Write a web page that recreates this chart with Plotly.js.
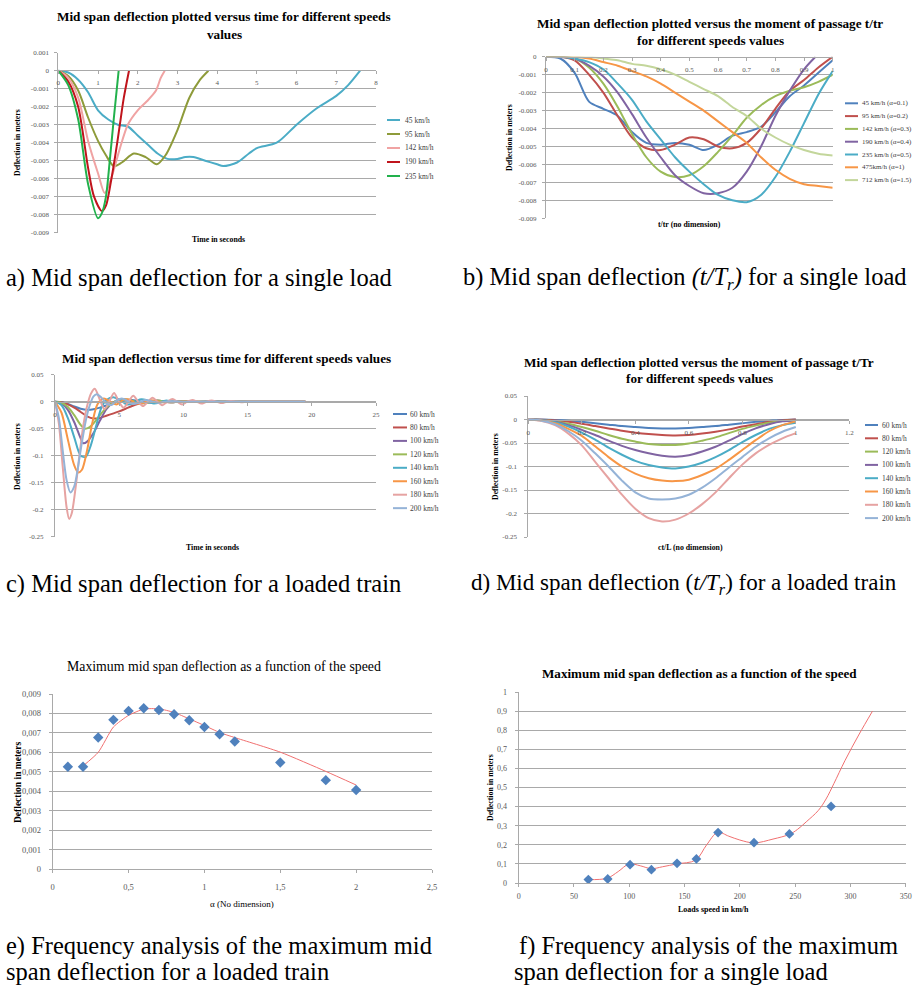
<!DOCTYPE html>
<html><head><meta charset="utf-8">
<script src="https://cdn.plot.ly/plotly-3.0.1.min.js"></script>
<style>html,body{margin:0;padding:0;background:#fff}#chart{width:914px;height:985px}</style>
</head><body><div id="chart"></div>
<script>
// ================= DATA =================
// (a) single load, deflection vs time
const aNames = ["45 km/h","95 km/h","142 km/h","190 km/h","235 km/h"];
const a45T = [0,0.25,0.5,0.75,1,1.25,1.5,1.75,2,2.25,2.5,2.75,3,3.2,3.4,3.7,4,4.15,4.5,4.8,5,5.5,6,6.5,7,7.3,7.6];
const a45Y = [0,-0.0001,-0.0005,-0.0012,-0.0022,-0.0027,-0.003,-0.0031,-0.0036,-0.0041,-0.0046,-0.0049,-0.0049,-0.0048,-0.0048,-0.005,-0.0052,-0.0053,-0.0051,-0.0046,-0.0043,-0.004,-0.003,-0.0021,-0.0014,-0.0008,0];
const a95T = [0,0.25,0.5,0.75,1,1.2,1.4,1.6,1.9,2.2,2.48,2.7,3,3.3,3.57,3.78];
const a95Y = [0,-0.0003,-0.0011,-0.0026,-0.0039,-0.0047,-0.0053,-0.0051,-0.0046,-0.0048,-0.0052,-0.0047,-0.0033,-0.0015,-0.0005,0];
const a142T = [0,0.25,0.5,0.75,1,1.17,1.33,1.54,1.75,2,2.23,2.46,2.58,2.68];
const a142Y = [0,-0.0004,-0.0015,-0.0039,-0.0057,-0.0068,-0.006,-0.0044,-0.003,-0.0022,-0.0017,-0.0011,-0.0004,0];
const a190T = [0,0.25,0.5,0.75,0.9,1.1,1.2,1.33,1.45,1.55,1.65,1.78];
const a190Y = [0,-0.0006,-0.002,-0.0054,-0.007,-0.0078,-0.0075,-0.0061,-0.0045,-0.003,-0.0015,0];
const a235T = [0,0.25,0.5,0.75,1,1.1,1.2,1.3,1.4,1.52];
const a235Y = [0,-0.0008,-0.0027,-0.0063,-0.0082,-0.0079,-0.007,-0.0049,-0.0026,0];
const aXTicks = [0,1,2,3,4,5,6,7,8];
const aXText = ["0","1","2","3","4","5","6","7","8"];
const aYTicks = [0.001,0,-0.001,-0.002,-0.003,-0.004,-0.005,-0.006,-0.007,-0.008,-0.009];
const aYText = ["0.001","0","-0.001","-0.002","-0.003","-0.004","-0.005","-0.006","-0.007","-0.008","-0.009"];

// (b) single load, deflection vs t/tr
const bNames = ["45 km/h (α=0.1)","95 km/h (α=0.2)","142 km/h (α=0.3)","190 km/h (α=0.4)","235 km/h (α=0.5)","475km/h (α=1)","712 km/h (α=1.5)"];
const bX = [0,0.05,0.1,0.15,0.2,0.25,0.3,0.35,0.4,0.45,0.5,0.55,0.6,0.65,0.7,0.75,0.8,0.85,0.9,0.95,1];
const b45 = [0,-0.0001,-0.0009,-0.0025,-0.0029,-0.0033,-0.0042,-0.0048,-0.0049,-0.0048,-0.0049,-0.0052,-0.0049,-0.0044,-0.0042,-0.0039,-0.0031,-0.0022,-0.0016,-0.0009,-0.0002];
const b95 = [0,0,-0.0002,-0.001,-0.002,-0.0033,-0.0045,-0.0051,-0.0052,-0.0049,-0.0045,-0.0046,-0.005,-0.0051,-0.0048,-0.004,-0.0029,-0.0019,-0.0013,-0.0006,0];
const b142 = [0,0,-0.0001,-0.0006,-0.0015,-0.0028,-0.0043,-0.0056,-0.0064,-0.0067,-0.0066,-0.0061,-0.0053,-0.0044,-0.0034,-0.0027,-0.0022,-0.0019,-0.0017,-0.0014,-0.001];
const b190X = [0,0.05,0.1,0.15,0.2,0.25,0.3,0.35,0.4,0.45,0.5,0.55,0.6,0.65,0.7,0.75,0.8,0.85,0.9,0.94];
const b190 = [0,0,-0.0001,-0.0005,-0.0011,-0.002,-0.0032,-0.0045,-0.0056,-0.0066,-0.0072,-0.0076,-0.0076,-0.0073,-0.0064,-0.005,-0.0033,-0.0019,-0.0007,0];
const b235 = [0,0,-0.0001,-0.0003,-0.0007,-0.0015,-0.0024,-0.0036,-0.0046,-0.0056,-0.0064,-0.0071,-0.0077,-0.008,-0.0081,-0.0077,-0.0067,-0.0053,-0.0037,-0.0021,-0.0008];
const b475 = [0,0,0,-0.0001,-0.0003,-0.0005,-0.0008,-0.0011,-0.0015,-0.002,-0.0025,-0.003,-0.0036,-0.0042,-0.0048,-0.0056,-0.0063,-0.0068,-0.0071,-0.0072,-0.0073];
const b712 = [0,0,0,0,-0.0001,-0.0002,-0.0004,-0.0005,-0.0007,-0.001,-0.0014,-0.0018,-0.0022,-0.0028,-0.0033,-0.004,-0.0045,-0.0049,-0.0052,-0.0054,-0.0055];
const bXTicks = [0,0.1,0.2,0.3,0.4,0.5,0.6,0.7,0.8,0.9,1];
const bXText = ["0","0.1","0.2","0.3","0.4","0.5","0.6","0.7","0.8","0.9","1"];
const bYTicks = [0,-0.001,-0.002,-0.003,-0.004,-0.005,-0.006,-0.007,-0.008,-0.009];
const bYText = ["0","-0.001","-0.002","-0.003","-0.004","-0.005","-0.006","-0.007","-0.008","-0.009"];

// (c) loaded train, deflection vs time
const cNames = ["60 km/h","80 km/h","100 km/h","120 km/h","140 km/h","160 km/h","180 km/h","200 km/h"];
const c60T = [0,0.5,1,1.5,2,2.5,3,3.5,4,4.5,5,5.5,6,6.5,7,7.5,8,9,10,11,12,13,14,15,16,17,18,19,19.5];
const c60Y = [0,-0.001,-0.004,-0.009,-0.013,-0.015,-0.014,-0.011,-0.007,-0.003,0.001,0.003,0.003,0.001,-0.001,-0.002,-0.001,0.001,0,-0.0005,0.0005,0,0,0,0,0,0,0,0];
const c80T = [0,0.5,1,1.5,2,2.5,3,3.5,4,4.5,5,5.5,6,6.5,7,7.5,8,8.5,9,10,11,12,13,14,15,16,17,18,19,19.5];
const c80Y = [0,-0.001,-0.005,-0.011,-0.019,-0.027,-0.031,-0.03,-0.026,-0.022,-0.018,-0.013,-0.008,-0.004,-0.001,0.001,0.001,0,-0.001,0.001,0,-0.0005,0,0,0,0,0,0,0,0];
const c100T = [0,0.5,1,1.5,2,2.2,2.5,3,3.5,4,4.5,5,5.5,6,6.5,7,7.5,8,9,10,11,12,13,14,15,16,17,18,19,19.5];
const c100Y = [0,-0.003,-0.015,-0.038,-0.068,-0.077,-0.074,-0.058,-0.035,-0.014,-0.002,0.004,0.004,0.001,-0.003,-0.002,0.001,0.002,-0.001,0.001,0,0,0,0,0,0,0,0,0,0];
const c120T = [0,0.5,1,1.5,2,2.3,2.7,3,3.5,4,4.5,5,5.5,6,6.5,7,7.5,8,9,10,11,12,13,14,15,16,17,18,19,19.5];
const c120Y = [0,-0.002,-0.01,-0.025,-0.043,-0.05,-0.047,-0.04,-0.025,-0.011,-0.002,0.003,0.004,0.002,-0.002,-0.003,0,0.002,-0.001,0.001,0,0,0,0,0,0,0,0,0,0];
const c140T = [0,0.5,1,1.5,2,2.4,2.8,3.2,3.6,4,4.6,5.1,5.6,6.1,6.6,7.1,7.6,8.1,8.6,9.1,10,11,12,13,14,15,16,17,18,19,19.5];
const c140Y = [0,-0.006,-0.03,-0.066,-0.1,-0.102,-0.08,-0.045,-0.012,0.003,0.008,0.003,-0.005,-0.003,0.004,0.003,-0.003,-0.002,0.002,0.001,0,-0.0005,0.0005,0,0,0,0,0,0,0,0];
const c160T = [0,0.5,1,1.5,1.8,2.1,2.5,2.9,3.3,3.8,4.3,4.8,5.3,5.8,6.3,6.8,7.3,7.8,8.3,9,10,11,12,13,14,15,16,17,18,19,19.5];
const c160Y = [0,-0.02,-0.07,-0.118,-0.131,-0.126,-0.09,-0.04,-0.005,0.006,0,-0.005,0.003,0.004,-0.003,-0.003,0.002,0.002,-0.001,0,0.0005,0,0,0,0,0,0,0,0,0,0];
const c180T = [0,0.3,0.6,0.9,1.1,1.3,1.6,1.9,2.2,2.5,2.8,3.1,3.47,3.85,4.22,4.6,4.97,5.35,5.72,6.1,6.48,6.86,7.23,7.6,7.98,8.36,8.75,9.15,9.52,9.9,10.3,10.7,11.05,11.4,11.8,12.2,12.6,13.0,13.35,13.7,14.1,14.5,15,16,17,18,19,19.5];
const c180Y = [0,-0.04,-0.12,-0.195,-0.217,-0.207,-0.16,-0.1,-0.045,-0.008,0.015,0.024,0.005,-0.014,0,0.016,0,-0.011,0,0.011,0,-0.008,0,0.0075,0,-0.0065,0,0.005,0,-0.005,0,0.003,0,-0.0035,0,0.002,0,-0.0025,0,0.0015,0,-0.001,0,0,0,0,0,0];
const c200T = [0,0.3,0.6,0.9,1.2,1.5,1.8,2.1,2.4,2.7,3.0,3.25,3.6,4.0,4.4,4.8,5.2,5.6,6.0,6.5,7,7.5,8,8.5,9,10,11,12,13,14,15,16,17,18,19,19.5];
const c200Y = [0,-0.03,-0.09,-0.145,-0.168,-0.157,-0.12,-0.075,-0.035,-0.007,0.01,0.014,0.008,-0.003,-0.006,0.002,0.006,0.002,-0.004,-0.002,0.003,0.001,-0.002,0,0.001,0,0,0,0,0,0,0,0,0,0,0];
const cXTicks = [0,5,10,15,20,25];
const cXText = ["0","5","10","15","20","25"];
const cYTicks = [0.05,0,-0.05,-0.1,-0.15,-0.2,-0.25];
const cYText = ["0.05","0","-0.05","-0.1","-0.15","-0.2","-0.25"];

// (d) loaded train, deflection vs ct/L
const dNames = ["60 km/h","80 km/h","120 km/h","100 km/h","140 km/h","160 km/h","180 km/h","200 km/h"];
const dX = [0,0.05,0.1,0.15,0.2,0.25,0.3,0.35,0.4,0.45,0.5,0.55,0.6,0.65,0.7,0.75,0.8,0.85,0.9,0.95,1];
const d60 = [0,-0.0002,-0.001,-0.0025,-0.005,-0.008,-0.011,-0.014,-0.016,-0.018,-0.019,-0.019,-0.018,-0.016,-0.014,-0.011,-0.008,-0.005,-0.003,-0.001,0];
const d80 = [0,-0.0004,-0.002,-0.005,-0.009,-0.014,-0.019,-0.024,-0.028,-0.031,-0.033,-0.034,-0.033,-0.03,-0.026,-0.021,-0.015,-0.01,-0.005,-0.002,0];
const d120 = [0,-0.001,-0.004,-0.009,-0.016,-0.024,-0.033,-0.041,-0.047,-0.052,-0.054,-0.054,-0.051,-0.045,-0.038,-0.029,-0.02,-0.013,-0.007,-0.003,-0.002];
const d100 = [0,-0.001,-0.005,-0.012,-0.022,-0.033,-0.045,-0.056,-0.065,-0.072,-0.077,-0.079,-0.076,-0.068,-0.058,-0.045,-0.031,-0.019,-0.01,-0.004,-0.002];
const d140 = [0,-0.0015,-0.006,-0.015,-0.028,-0.043,-0.06,-0.075,-0.088,-0.097,-0.102,-0.104,-0.1,-0.092,-0.08,-0.065,-0.048,-0.033,-0.02,-0.012,-0.007];
const d160 = [0,-0.002,-0.008,-0.02,-0.035,-0.057,-0.08,-0.1,-0.115,-0.125,-0.13,-0.131,-0.128,-0.118,-0.105,-0.086,-0.065,-0.044,-0.025,-0.012,-0.004];
const d180 = [0,-0.003,-0.012,-0.03,-0.055,-0.09,-0.125,-0.16,-0.19,-0.21,-0.217,-0.213,-0.2,-0.18,-0.155,-0.125,-0.096,-0.072,-0.054,-0.04,-0.029];
const d200 = [0,-0.0025,-0.01,-0.025,-0.045,-0.072,-0.1,-0.13,-0.155,-0.168,-0.17,-0.168,-0.16,-0.145,-0.125,-0.102,-0.08,-0.058,-0.04,-0.026,-0.016];
const dXTicks = [0,0.2,0.4,0.6,0.8,1,1.2];
const dXText = ["0","0.2","0.4","0.6","0.8","1","1.2"];

// (e) max deflection vs alpha (loaded train)
const eX = [0.1,0.2,0.3,0.4,0.5,0.6,0.7,0.8,0.9,1.0,1.1,1.2,1.5,1.8,2.0];
const eY = [0.00526,0.00526,0.00676,0.00767,0.00813,0.00827,0.00818,0.00796,0.00765,0.0073,0.00693,0.00656,0.00548,0.00457,0.00406];
const eFitX = [0.2,0.3,0.4,0.5,0.6,0.7,0.8,0.9,1.0,1.1,1.2,1.5,1.8,2.0];
const eFitY = [0.0053,0.006,0.0073,0.0079,0.00822,0.00824,0.00805,0.00772,0.00738,0.00702,0.00676,0.00601,0.00502,0.00432];
const eXTicks = [0,0.5,1,1.5,2,2.5];
const eXText = ["0","0,5","1","1,5","2","2,5"];
const eYTicks = [0,0.001,0.002,0.003,0.004,0.005,0.006,0.007,0.008,0.009];
const eYText = ["0","0,001","0,002","0,003","0,004","0,005","0,006","0,007","0,008","0,009"];

// (f) max deflection vs speed (single load)
const fX = [63,80.5,100.7,120,143.2,160.7,180.3,212.8,244.8,282.5];
const fY = [0.018,0.021,0.096,0.07,0.103,0.126,0.264,0.211,0.257,0.401];
const fFitX = [63,80,90,100,110,120,130,143,160,170,180,190,200,213,230,245,252,260,271,278,285,295,308,320];
const fFitY = [0.018,0.025,0.06,0.1,0.09,0.075,0.085,0.1,0.12,0.2,0.265,0.245,0.225,0.21,0.23,0.255,0.28,0.32,0.38,0.44,0.52,0.64,0.78,0.9];
const fXTicks = [0,50,100,150,200,250,300,350];
const fXText = ["0","50","100","150","200","250","300","350"];
const fYTicks = [0,0.1,0.2,0.3,0.4,0.5,0.6,0.7,0.8,0.9,1];
const fYText = ["0","0,1","0,2","0,3","0,4","0,5","0,6","0,7","0,8","0,9","1"];

// ================= STYLE / LAYOUT =================
const W = 914, H = 985;
const px = v => v / W;
const py = v => 1 - v / H;
const SERIF = "Liberation Serif, Times New Roman, serif";
const GRID = "#a9a9a9";
const TICKC = "#595959";

const aColors = ["#4BACC6","#8E9B3A","#F0A3A3","#C0141C","#22B14C"];
const bColors = ["#4F81BD","#C0504D","#9BBB59","#8064A2","#4BACC6","#F79646","#C3D69B"];
const cColors = ["#4F81BD","#C0504D","#8064A2","#9BBB59","#4BACC6","#F79646","#E6A3A2","#95B3D7"];
const dColors = ["#4F81BD","#C0504D","#9BBB59","#8064A2","#4BACC6","#F79646","#E6A3A2","#95B3D7"];

const traces = [];
function addLine(xa, ya, x, y, color, name) {
  traces.push({type:"scatter", mode:"lines", x:x, y:y, name:name, xaxis:xa, yaxis:ya,
    line:{color:color, width:2, shape:"spline", smoothing:0.8}, hoverinfo:"skip", showlegend:false});
}
[[a45T,a45Y],[a95T,a95Y],[a142T,a142Y],[a190T,a190Y],[a235T,a235Y]].forEach((s,i)=>addLine("x","y",s[0],s[1],aColors[i],aNames[i]));
[[bX,b45],[bX,b95],[bX,b142],[b190X,b190],[bX,b235],[bX,b475],[bX,b712]].forEach((s,i)=>addLine("x2","y2",s[0],s[1],bColors[i],bNames[i]));
[[c60T,c60Y],[c80T,c80Y],[c100T,c100Y],[c120T,c120Y],[c140T,c140Y],[c160T,c160Y],[c180T,c180Y],[c200T,c200Y]].forEach((s,i)=>addLine("x3","y3",s[0],s[1],cColors[i],cNames[i]));
[d60,d80,d120,d100,d140,d160,d180,d200].forEach((s,i)=>addLine("x4","y4",dX,s,dColors[i],dNames[i]));
traces.push({type:"scatter", mode:"lines", x:eFitX, y:eFitY, xaxis:"x5", yaxis:"y5",
  line:{color:"#F07070", width:1, shape:"spline", smoothing:0.6}, hoverinfo:"skip", showlegend:false});
traces.push({type:"scatter", mode:"markers", x:eX, y:eY, xaxis:"x5", yaxis:"y5",
  marker:{symbol:"diamond", size:8, color:"#4F81BD"}, hoverinfo:"skip", showlegend:false});
traces.push({type:"scatter", mode:"lines", x:fFitX, y:fFitY, xaxis:"x6", yaxis:"y6",
  line:{color:"#F07070", width:1, shape:"spline", smoothing:1}, hoverinfo:"skip", showlegend:false});
traces.push({type:"scatter", mode:"markers", x:fX, y:fY, xaxis:"x6", yaxis:"y6",
  marker:{symbol:"diamond", size:7.5, color:"#4F81BD"}, hoverinfo:"skip", showlegend:false});

function xAx(dom, range, tv, tt, fs, pos, yanchor, standoff) {
  const o = {domain:dom, range:range, tickmode:"array", tickvals:tv, ticktext:tt,
    showgrid:false, zeroline:false, showline:true, linecolor:GRID, linewidth:1,
    ticks:"outside", ticklen:3, tickcolor:GRID, ticklabelstandoff:standoff,
    tickfont:{family:SERIF, size:fs, color:TICKC}, fixedrange:true, automargin:false};
  if (pos !== null) { o.anchor = "free"; o.position = pos; } else { o.anchor = yanchor; }
  return o;
}
function yAx(dom, range, tv, tt, fs, xanchor, standoff) {
  return {domain:dom, range:range, anchor:xanchor, tickmode:"array", tickvals:tv, ticktext:tt,
    showgrid:true, gridcolor:GRID, gridwidth:1, zeroline:false, showline:true, linecolor:GRID,
    ticks:"outside", ticklen:3, tickcolor:GRID, ticklabelstandoff:standoff,
    tickfont:{family:SERIF, size:fs, color:TICKC}, fixedrange:true, automargin:false};
}

const layout = {
  width:W, height:H, margin:{l:0,r:0,t:0,b:0}, paper_bgcolor:"#fff", plot_bgcolor:"#fff",
  showlegend:false,
  xaxis:  xAx([px(58.3),px(376)], [0,8], aXTicks, aXText, 7, py(70), null, 3),
  yaxis:  yAx([py(232.7),py(52.7)], [-0.009,0.001], aYTicks, aYText, 7, "x", 4),
  xaxis2: xAx([px(546),px(832.7)], [0,1], bXTicks, bXText, 7, py(56.7), null, 3),
  yaxis2: yAx([py(218.3),py(56.7)], [-0.009,0], bYTicks, bYText, 7, "x2", 4),
  xaxis3: xAx([px(55),px(376)], [0,25], cXTicks, cXText, 7, py(401.7), null, 3),
  yaxis3: yAx([py(536.7),py(374.7)], [-0.25,0.05], cYTicks, cYText, 7, "x3", 6),
  xaxis4: xAx([px(528.3),px(849.3)], [0,1.2], dXTicks, dXText, 7, py(419.5), null, 3),
  yaxis4: yAx([py(537),py(396)], [-0.25,0.05], cYTicks, cYText, 7, "x4", 6),
  xaxis5: xAx([px(52.7),px(432)], [0,2.5], eXTicks, eXText, 8.5, null, "y5", 7),
  yaxis5: yAx([py(869),py(694)], [0,0.009], eYTicks, eYText, 8.5, "x5", 6),
  xaxis6: xAx([px(518.7),px(905.7)], [0,350], fXTicks, fXText, 8, null, "y6", 2),
  yaxis6: yAx([py(883),py(692)], [0,1], fYTicks, fYText, 8, "x6", 6),
  annotations: [], shapes: []
};

function ann(text, x, y, o) {
  o = o || {};
  layout.annotations.push(Object.assign({text:text, xref:"paper", yref:"paper", x:px(x), y:py(y),
    xanchor:"center", yanchor:"middle", showarrow:false,
    font:{family:SERIF, size:11, color:"#000"}}, o));
}
const TB = {family:SERIF, size:13.2, color:"#000"};
// chart titles
ann("<b>Mid span deflection plotted versus time for different speeds</b>", 224, 16, {font:TB});
ann("<b>values</b>", 224, 34, {font:TB});
ann("<b>Mid span deflection plotted versus the moment of passage t/tr</b>", 710, 23, {font:TB});
ann("<b>for different speeds values</b>", 710, 40, {font:TB});
ann("<b>Mid span deflection versus time for different speeds values</b>", 226, 358, {font:TB});
ann("<b>Mid span deflection plotted versus the moment of passage t/Tr</b>", 699, 362, {font:TB});
ann("<b>for different speeds values</b>", 699, 378, {font:TB});
ann("Maximum mid span deflection as a function of the speed", 224, 666, {font:{family:SERIF, size:13.8, color:"#000"}});
ann("<b>Maximum mid span deflection as a function of the speed</b>", 699, 673, {font:{family:SERIF, size:13.1, color:"#000"}});

// axis titles
const AT = {family:SERIF, size:7.8, color:"#000"};
ann("<b>Time in seconds</b>", 218, 239, {font:AT});
ann("<b>Deflection in meters</b>", 18, 143, {font:AT, textangle:-90});
ann("<b>t/tr (no dimension)</b>", 689, 224, {font:AT});
ann("<b>Deflection in meters</b>", 509, 138, {font:AT, textangle:-90});
ann("<b>Time in seconds</b>", 212, 547, {font:AT});
ann("<b>Deflection in meters</b>", 17, 457, {font:AT, textangle:-90});
ann("<b>ct/L (no dimension)</b>", 690, 547, {font:AT});
ann("<b>Deflection in meters</b>", 495, 467, {font:AT, textangle:-90});
ann("α (No dimension)", 242, 904, {font:{family:SERIF, size:9, color:"#000"}});
ann("<b>Deflection in meters</b>", 18, 782, {font:{family:SERIF, size:9.5, color:"#000"}, textangle:-90});
ann("<b>Loads speed in km/h</b>", 713, 909, {font:{family:SERIF, size:8, color:"#000"}});
ann("<b>Deflection in meters</b>", 490, 788, {font:{family:SERIF, size:7.8, color:"#000"}, textangle:-90});

// legends (short lines + labels)
function legend(names, colors, x0, x1, xt, y0, step, fs) {
  names.forEach((n,i)=>{
    const y = y0 + i*step;
    layout.shapes.push({type:"line", xref:"paper", yref:"paper", x0:px(x0), x1:px(x1), y0:py(y), y1:py(y),
      line:{color:colors[i], width:2}});
    ann(n, xt, y, {xanchor:"left", font:{family:SERIF, size:fs, color:"#404040"}});
  });
}
legend(aNames, aColors, 387, 400, 403, 120, 14, 7.5);
legend(bNames, bColors, 845, 858, 860, 103.3, 12.8, 7);
legend(cNames, cColors, 393, 407, 408, 414, 13.45, 7.5);
legend(dNames, dColors, 865, 878, 880, 425, 13.3, 7.5);

// figure captions
const CF = {family:SERIF, size:24.5, color:"#000"};
const CFd = {family:SERIF, size:23, color:"#000"};
ann("a) Mid span deflection for a single load", 4, 278, {xanchor:"left", font:CF});
ann("b) Mid span deflection <i>(t/T<sub>r</sub>)</i> for a single load", 461, 278, {xanchor:"left", font:CF});
ann("c) Mid span deflection for a loaded train", 4, 584, {xanchor:"left", font:CF});
ann("d) Mid span deflection (<i>t/T<sub>r</sub></i>) for a loaded train", 469, 584, {xanchor:"left", font:CFd});
ann("e) Frequency analysis of the maximum mid", 4, 946, {xanchor:"left", font:CF});
ann("span deflection for a loaded train", 4, 971, {xanchor:"left", font:CF});
ann("f) Frequency analysis of the maximum", 517, 946, {xanchor:"left", font:CF});
ann("span deflection for a single load", 512, 971, {xanchor:"left", font:CF});

Plotly.newPlot("chart", traces, layout, {staticPlot:true, displayModeBar:false});
</script>
</body></html>
